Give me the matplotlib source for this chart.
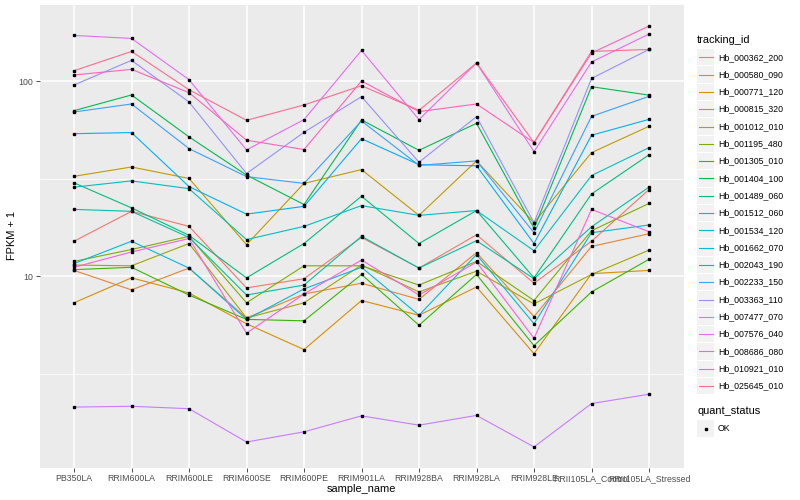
import numpy as np
import matplotlib
matplotlib.use("Agg")
import matplotlib.pyplot as plt
from matplotlib.ticker import FixedLocator, NullLocator
from matplotlib.patches import Rectangle

plt.rcParams['font.family'] = ['Liberation Sans', 'DejaVu Sans']

samples = ["PB350LA", "RRIM600LA", "RRIM600LE", "RRIM600SE", "RRIM600PE", "RRIM901LA",
           "RRIM928BA", "RRIM928LA", "RRIM928LE", "RRII105LA_Control", "RRII105LA_Stressed"]

tracking_ids = ["Hb_000362_200", "Hb_000580_090", "Hb_000771_120", "Hb_000815_320",
                "Hb_001012_010", "Hb_001195_480", "Hb_001305_010", "Hb_001404_100",
                "Hb_001489_060", "Hb_001512_060", "Hb_001534_120", "Hb_001662_070",
                "Hb_002043_190", "Hb_002233_150", "Hb_003363_110", "Hb_007477_070",
                "Hb_007576_040", "Hb_008686_080", "Hb_010921_010", "Hb_025645_010"]

hb_000362_200 = [15.1, 21.5, 18.0, 8.7, 9.7, 15.8, 11.0, 16.3, 9.2, 15.1, 27.8]
hb_000580_090 = [10.7, 8.5, 11.0, 6.1, 8.1, 9.2, 7.6, 13.2, 6.2, 14.2, 16.5]
hb_000771_120 = [7.3, 9.8, 8.2, 5.7, 4.2, 7.5, 6.3, 8.8, 4.0, 10.3, 10.7]
hb_000815_320 = [32.5, 36.3, 31.7, 14.5, 29.9, 35.2, 20.5, 39.0, 18.8, 43.0, 58.7]
hb_001012_010 = [11.4, 11.3, 14.7, 6.1, 7.3, 11.4, 8.3, 10.6, 7.2, 10.2, 13.6]
hb_001195_480 = [11.9, 13.7, 16.0, 7.3, 11.3, 11.3, 9.0, 11.9, 7.5, 17.1, 23.6]
hb_001305_010 = [10.8, 11.1, 8.0, 6.0, 5.9, 10.2, 5.6, 10.2, 4.4, 8.3, 12.2]
hb_001404_100 = [70.6, 85.0, 51.8, 33.0, 23.3, 63.3, 44.2, 60.8, 17.6, 93.7, 84.8]
hb_001489_060 = [30.1, 22.4, 16.2, 9.8, 14.7, 25.7, 14.7, 21.7, 9.8, 26.4, 41.9]
hb_001512_060 = [22.0, 21.5, 15.8, 8.0, 9.0, 16.0, 11.0, 15.2, 9.7, 17.9, 28.6]
hb_001534_120 = [28.6, 30.8, 28.1, 15.4, 18.0, 23.0, 20.5, 21.7, 13.5, 32.8, 45.6]
hb_001662_070 = [11.6, 15.1, 11.0, 6.0, 8.6, 11.1, 6.3, 12.9, 5.7, 16.7, 18.3]
hb_002043_190 = [53.8, 54.5, 28.8, 20.8, 22.8, 50.7, 37.3, 36.8, 14.7, 52.8, 63.7]
hb_002233_150 = [69.5, 76.4, 45.1, 32.4, 29.9, 62.5, 37.0, 39.0, 16.7, 66.0, 83.6]
hb_003363_110 = [95.6, 127.9, 78.2, 33.6, 54.7, 83.3, 38.4, 65.8, 18.8, 103.3, 145.5]
hb_007477_070 = [2.13, 2.15, 2.09, 1.41, 1.59, 1.92, 1.72, 1.93, 1.33, 2.22, 2.48]
hb_007576_040 = [171.7, 165.7, 101.8, 44.4, 63.5, 143.8, 63.5, 124.0, 43.5, 125.4, 174.5]
hb_008686_080 = [11.1, 13.3, 15.6, 5.1, 8.1, 12.1, 8.0, 11.8, 4.8, 22.0, 16.9]
hb_010921_010 = [107.6, 115.0, 87.3, 49.8, 44.6, 100.2, 69.8, 76.4, 48.4, 139.5, 191.8]
hb_025645_010 = [113.2, 142.1, 90.4, 63.0, 75.5, 94.8, 70.9, 124.0, 48.4, 142.1, 145.5]

series = [hb_000362_200, hb_000580_090, hb_000771_120, hb_000815_320, hb_001012_010,
          hb_001195_480, hb_001305_010, hb_001404_100, hb_001489_060, hb_001512_060,
          hb_001534_120, hb_001662_070, hb_002043_190, hb_002233_150, hb_003363_110,
          hb_007477_070, hb_007576_040, hb_008686_080, hb_010921_010, hb_025645_010]

colors = ["#F8766D", "#EA8331", "#D89000", "#C09B00", "#A3A500", "#7CAE00", "#39B600",
          "#00BB4E", "#00BF7D", "#00C1A3", "#00BFC4", "#00BAE0", "#00B0F6", "#35A2FF",
          "#9590FF", "#C77CFF", "#E76BF3", "#FA62DB", "#FF62BC", "#FF6C91"]

quant_status = ["OK"]

fig = plt.figure(figsize=(8, 5), dpi=100)
ax = fig.add_axes([39.5 / 800, 1 - 468 / 500, (683.5 - 39.5) / 800, (468 - 5) / 500])
ax.set_facecolor("#EBEBEB")
for s in ax.spines.values():
    s.set_visible(False)

x = np.arange(len(samples))
for vals, c in zip(series, colors):
    ax.plot(x, vals, color=c, lw=0.8, zorder=3, solid_capstyle='butt')
for vals in series:
    ax.plot(x, vals, ls='none', marker='s', ms=2.0, color='black', zorder=4)

ax.set_yscale('log')
allv = np.concatenate([np.log10(v) for v in series])
lo, hi = allv.min(), allv.max()
pad = 0.05 * (hi - lo)
ax.set_ylim(10 ** (lo - pad), 10 ** (hi + pad))
ax.set_xlim(-0.6, len(samples) - 1 + 0.6)

ax.yaxis.set_major_locator(FixedLocator([1, 10, 100, 1000]))
ax.yaxis.set_minor_locator(FixedLocator([10 ** 0.5, 10 ** 1.5, 10 ** 2.5]))
ax.set_yticklabels(["1", "10", "100", "1000"])
ax.set_xticks(x)
ax.set_xticklabels(samples)
ax.xaxis.set_minor_locator(NullLocator())
ax.grid(which='major', color='white', lw=1.1, zorder=1)
ax.grid(which='minor', axis='y', color='white', lw=0.55, zorder=1)
ax.set_axisbelow(True)
ax.tick_params(which='major', length=2.6, width=0.6, color='#333333',
               labelsize=6.3, labelcolor='#4D4D4D', pad=1.8)
ax.tick_params(which='minor', length=0)

fig.text(361.5 / 800, 1 - 489 / 500, "sample_name", ha='center', va='center', fontsize=7.9)
fig.text(12 / 800, 1 - 236 / 500, "FPKM + 1", ha='center', va='center', rotation=90, fontsize=7.9)

# legend drawn in pixel coordinates
lax = fig.add_axes([0, 0, 1, 1], facecolor='none')
lax.set_xlim(0, 800)
lax.set_ylim(500, 0)
lax.axis('off')
lax.text(697, 40, "tracking_id", ha='left', va='center', fontsize=7.9)
step = 17.3
for i, (tid, c) in enumerate(zip(tracking_ids, colors)):
    yc = 57.3 + i * step
    lax.add_patch(Rectangle((697, yc - step / 2 + 0.5), 17, step - 1, facecolor='#F2F2F2', edgecolor='none'))
    lax.plot([698.5, 712.5], [yc, yc], color=c, lw=0.8)
    lax.text(718, yc, tid, ha='left', va='center', fontsize=6.3)
lax.text(697, 411.5, "quant_status", ha='left', va='center', fontsize=7.9)
for j, q in enumerate(quant_status):
    yc = 428.5 + j * step
    lax.add_patch(Rectangle((697, yc - step / 2 + 0.5), 17, step - 1, facecolor='#F2F2F2', edgecolor='none'))
    lax.plot([705.5], [yc], marker='s', ms=2.0, color='black')
    lax.text(718, yc, q, ha='left', va='center', fontsize=6.3)

fig.savefig("out.png", dpi=100)
